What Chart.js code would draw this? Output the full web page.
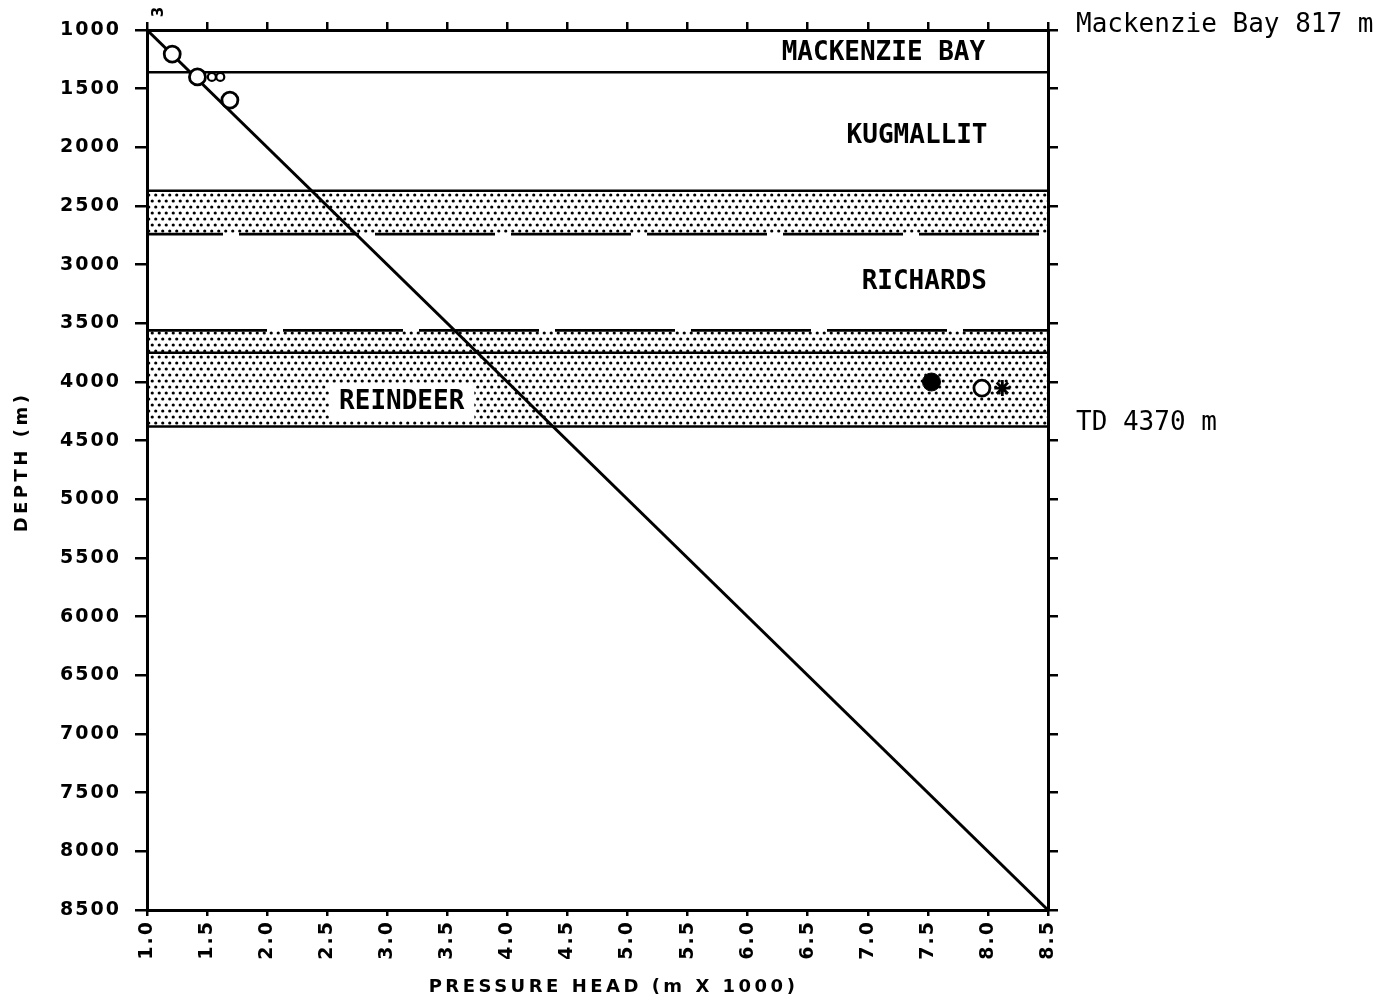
<!DOCTYPE html>
<html><head><meta charset="utf-8">
<script src="https://cdn.jsdelivr.net/npm/chart.js@4.4.1/dist/chart.umd.min.js"></script>
<style>html,body{margin:0;padding:0;background:#fff;}#wrap{width:1386px;height:1001px;position:relative;}</style>
</head><body><div id="wrap"><canvas id="c"></canvas></div>
<script>
// ---- data ----
const pressureRange = [1.0, 8.5];          // pressure head (m x 1000)
const depthRange = [1000, 8500];           // depth (m)
const hydroPressure = [1.0, 8.5];
const hydroDepth = [1000, 8500];
const solidBoundaries = [1360, 2370, 3750, 4380];
const dashedBoundaries = [2740, 3560];
const shadedTops = [2370, 3560];
const shadedBases = [2740, 4380];
const formationNames = ['MACKENZIE BAY', 'KUGMALLIT', 'RICHARDS', 'REINDEER'];
const openPressure = [1.21, 1.42, 1.69, 7.95];
const openDepth = [1205, 1400, 1597, 4052];
const smallOpenPressure = [1.54, 1.61];
const smallOpenDepth = [1400, 1400];
const filledPressure = [7.53];
const filledDepth = [4000];
const starPressure = [8.12];
const starDepth = [4052];
const wellLabel = 'Mackenzie Bay 817 m';
const tdDepth = 4370;
const tdLabel = 'TD 4370 m';
const sampleTag = '3';

// ---- helpers ----
const pts = (xs, ys) => xs.map((x, i) => ({x: x, y: ys[i]}));
const hline = d => [{x: pressureRange[0], y: d}, {x: pressureRange[1], y: d}];

const pc = document.createElement('canvas');
pc.width = 7; pc.height = 12;
const pctx = pc.getContext('2d');
pctx.fillStyle = '#000';
[[1.75, 3], [5.25, 9]].forEach(([a, b]) => { pctx.beginPath(); pctx.arc(a, b, 1.6, 0, Math.PI * 2); pctx.fill(); });
const dotPattern = document.getElementById('c').getContext('2d').createPattern(pc, 'repeat');

const datasets = [];
datasets.push({data: pts(openPressure, openDepth), pointStyle: 'circle', pointRadius: 8, pointBorderWidth: 2.8,
  pointBorderColor: '#000', pointBackgroundColor: '#fff', showLine: false, order: 0});
datasets.push({data: pts(smallOpenPressure, smallOpenDepth), pointStyle: 'circle', pointRadius: 4, pointBorderWidth: 2.2,
  pointBorderColor: '#000', pointBackgroundColor: '#fff', showLine: false, order: 0});
datasets.push({data: pts(filledPressure, filledDepth), pointStyle: 'circle', pointRadius: 9, pointBorderWidth: 1,
  pointBorderColor: '#000', pointBackgroundColor: '#000', showLine: false, order: 0});
datasets.push({data: pts(starPressure, starDepth), pointStyle: 'star', pointRadius: 8, pointBorderWidth: 2.8,
  pointBorderColor: '#000', pointBackgroundColor: '#fff', showLine: false, order: 0});
datasets.push({data: pts(hydroPressure, hydroDepth), showLine: true, borderColor: '#000', borderWidth: 3,
  pointRadius: 0, fill: false, order: 2});
solidBoundaries.forEach(d => datasets.push({data: hline(d), showLine: true, borderColor: '#000', borderWidth: 2.5,
  pointRadius: 0, fill: false, order: 4}));
dashedBoundaries.forEach((d, i) => datasets.push({data: hline(d), showLine: true, borderColor: '#000', borderWidth: 2.6,
  borderDash: [120, 16], borderDashOffset: i === 0 ? 44 : 0, pointRadius: 0, fill: false, order: 4}));
shadedTops.forEach((d, i) => datasets.push({data: hline(d), showLine: true, borderWidth: 0, borderColor: 'rgba(0,0,0,0)',
  pointRadius: 0, fill: {value: shadedBases[i]}, backgroundColor: dotPattern, order: 10}));

const annot = {
  id: 'annot',
  beforeDraw(chart) { chart.ctx.letterSpacing = '2px'; },
  afterDatasetsDraw(chart) {
    const ctx = chart.ctx, xs = chart.scales.x, ys = chart.scales.y;
    const pos = [[7.13, 1188], [7.41, 1895], [7.47, 3140], [3.12, 4163]];
    ctx.save();
    ctx.letterSpacing = '0px';
    ctx.font = 'bold 26px "DejaVu Sans Mono"';
    ctx.textAlign = 'center'; ctx.textBaseline = 'middle';
    formationNames.forEach((n, i) => {
      const px = xs.getPixelForValue(pos[i][0]), py = ys.getPixelForValue(pos[i][1]);
      if (i === 3) {
        const w = ctx.measureText(n).width + 20;
        ctx.fillStyle = '#fff';
        ctx.fillRect(px - w / 2, py - 18, w, 36);
      }
      ctx.fillStyle = '#000';
      ctx.fillText(n, px, py + 1);
    });
    ctx.restore();
  },
  afterDraw(chart) {
    const ctx = chart.ctx, ca = chart.chartArea, ys = chart.scales.y, xs = chart.scales.x;
    ctx.save();
    ctx.fillStyle = '#000';
    ctx.letterSpacing = '0px';
    ctx.font = '26px "DejaVu Sans Mono"';
    ctx.textAlign = 'left'; ctx.textBaseline = 'middle';
    ctx.fillText(wellLabel, ca.right + 28, ca.top - 5);
    ctx.fillText(tdLabel, ca.right + 28, ys.getPixelForValue(tdDepth) - 2);
    // axis titles
    ctx.font = 'bold 18px "DejaVu Sans"';
    ctx.letterSpacing = '3.5px';
    ctx.textAlign = 'center';
    ctx.fillText('PRESSURE HEAD (m X 1000)', (ca.left + ca.right) / 2 + 16, 987);
    ctx.save();
    ctx.translate(22, (ca.top + ca.bottom) / 2 - 8);
    ctx.rotate(-Math.PI / 2);
    ctx.fillText('DEPTH (m)', 0, 0);
    ctx.restore();
    // small hand tag
    ctx.letterSpacing = '0px';
    ctx.font = 'bold 15px "DejaVu Sans"';
    ctx.save();
    ctx.translate(xs.getPixelForValue(1.1), ca.top - 18);
    ctx.rotate(-Math.PI / 2);
    ctx.fillText(sampleTag, 0, 0);
    ctx.restore();
    ctx.restore();
  }
};

Chart.defaults.font.family = '"DejaVu Sans"';
Chart.defaults.color = '#000';

const axisCommon = {
  type: 'linear',
  grid: {drawOnChartArea: false, color: '#000', lineWidth: 2.5},
  border: {display: true, color: '#000', width: 3}
};

new Chart(document.getElementById('c'), {
  type: 'scatter',
  data: {datasets: datasets},
  options: {
    responsive: true, maintainAspectRatio: false, animation: false,
    layout: {padding: 0},
    plugins: {legend: {display: false}, tooltip: {enabled: false}, filler: {propagate: false}},
    scales: {
      x: Object.assign({}, axisCommon, {
        position: 'bottom', min: pressureRange[0], max: pressureRange[1],
        grid: Object.assign({}, axisCommon.grid, {tickLength: 6}),
        ticks: {stepSize: 0.5, minRotation: 90, maxRotation: 90, padding: 4, autoSkip: false,
          font: {size: 19, weight: 'bold'}, callback: v => Number(v).toFixed(1)},
        afterFit: s => { s.height = 91; }
      }),
      x2: Object.assign({}, axisCommon, {
        position: 'top', min: pressureRange[0], max: pressureRange[1],
        grid: Object.assign({}, axisCommon.grid, {tickLength: 8}),
        ticks: {stepSize: 0.5, display: false},
        afterFit: s => { s.height = 30; }
      }),
      y: Object.assign({}, axisCommon, {
        position: 'left', reverse: true, min: depthRange[0], max: depthRange[1],
        grid: Object.assign({}, axisCommon.grid, {tickLength: 12}),
        ticks: {stepSize: 500, padding: 14, autoSkip: false, font: {size: 19, weight: 'bold'},
          callback: v => String(v)},
        afterFit: s => { s.width = 147; }
      }),
      y2: Object.assign({}, axisCommon, {
        position: 'right', reverse: true, min: depthRange[0], max: depthRange[1],
        grid: Object.assign({}, axisCommon.grid, {tickLength: 10}),
        ticks: {stepSize: 500, display: false},
        afterFit: s => { s.width = 338; }
      })
    }
  },
  plugins: [annot]
});
</script></body></html>
